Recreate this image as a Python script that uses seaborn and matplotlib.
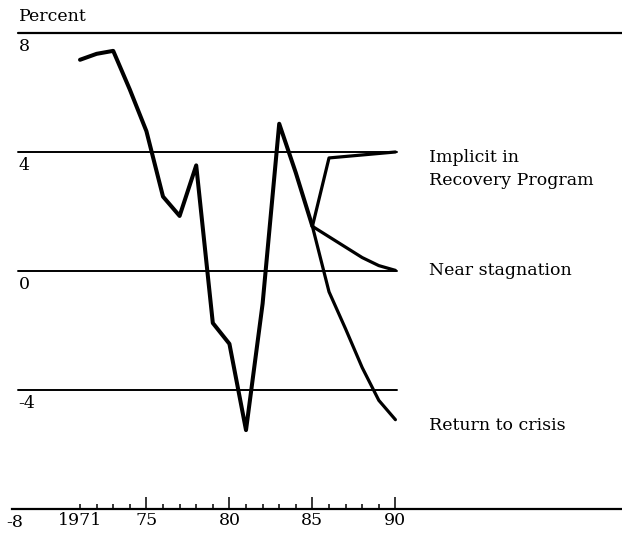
import matplotlib
matplotlib.use("Agg")
import matplotlib.pyplot as plt
import numpy as np
import pandas as pd
import seaborn as sns

sns.set_theme(style="white")
plt.rcParams["font.family"] = ["DejaVu Serif", "Liberation Serif"]
plt.rcParams["text.color"] = "black"
plt.rcParams["xtick.color"] = "black"

# historical growth, percent
hist_years = list(range(1971, 1986))
hist_pct = [7.1, 7.3, 7.4, 6.1, 4.7, 2.5, 1.85, 3.55, -1.75, -2.45, -5.35, -1.1, 4.95, 3.3, 1.5]

# projected scenarios
proj_years = list(range(1985, 1991))
recovery_pct = [1.5, 3.8, 3.85, 3.9, 3.95, 4.0]
stagnation_pct = [1.5, 1.15, 0.8, 0.45, 0.18, 0.02]
crisis_pct = [1.5, -0.7, -1.95, -3.25, -4.35, -5.0]

scenario_labels = ["Implicit in\nRecovery Program", "Near stagnation", "Return to crisis"]
grid_levels = [4, 0, -4]
ylabels = ["8", "4", "0", "-4"]
ylabel_vals = [8, 4, 0, -4]
major_years = [1975, 1980, 1985, 1990]
major_labels = ["75", "80", "85", "90"]

fs = 12.5

fig = plt.figure(figsize=(6.22, 5.33), dpi=100)
ax = fig.add_axes([0, 0, 1, 1])
ax.set_xlim(1966.18, 2003.65)
ax.set_ylim(-8.81, 9.11)

sns.lineplot(x=hist_years, y=hist_pct, color="black", linewidth=2.9, ax=ax)
for vals in [recovery_pct, stagnation_pct, crisis_pct]:
    sns.lineplot(x=proj_years, y=vals, color="black", linewidth=2.3, ax=ax)

# horizontal rules
ax.axhline(8, xmin=18 / 622, xmax=1, color="black", lw=1.6)
for g in grid_levels:
    ax.axhline(g, xmin=18 / 622, xmax=397 / 622, color="black", lw=1.4)

for lab, v in zip(ylabels, ylabel_vals):
    ax.text(1967.3, v - 0.47, lab, ha="left", va="center", fontsize=fs, color="black")
ax.text(1966.55, -8.45, "-8", ha="left", va="center", fontsize=fs, color="black")
ax.text(1967.3, 8.54, "Percent", ha="left", va="center", fontsize=fs, color="black")

# scenario labels
ax.text(1992.0, 3.43, scenario_labels[0], ha="left", va="center",
        fontsize=fs, linespacing=1.45, color="black")
ax.text(1992.0, 0.03, scenario_labels[1], ha="left", va="center", fontsize=fs, color="black")
ax.text(1992.0, -5.18, scenario_labels[2], ha="left", va="center", fontsize=fs, color="black")

# x axis at -8
for s in ["top", "left", "right"]:
    ax.spines[s].set_visible(False)
ax.spines["bottom"].set_position(("data", -8))
ax.spines["bottom"].set_bounds(1966.9, 2003.65)
ax.spines["bottom"].set_linewidth(1.6)
ax.spines["bottom"].set_color("black")
ax.set_xticks(major_years, labels=major_labels)
minor_years = list(range(1971, 1991))
ax.set_xticks(minor_years, labels=["1971"] + [""] * (len(minor_years) - 1), minor=True)
ax.tick_params(axis="x", which="major", bottom=True, direction="in", length=8.6,
               width=1.1, color="black", labelcolor="black", labelsize=fs, pad=2)
ax.tick_params(axis="x", which="minor", bottom=True, direction="in", length=3.6,
               width=1.1, color="black", labelcolor="black", labelsize=fs, pad=2)
ax.set_yticks([])
ax.set_xlabel("")
ax.set_ylabel("")
ax.patch.set_alpha(0)

fig.savefig("out.png", dpi=100)
